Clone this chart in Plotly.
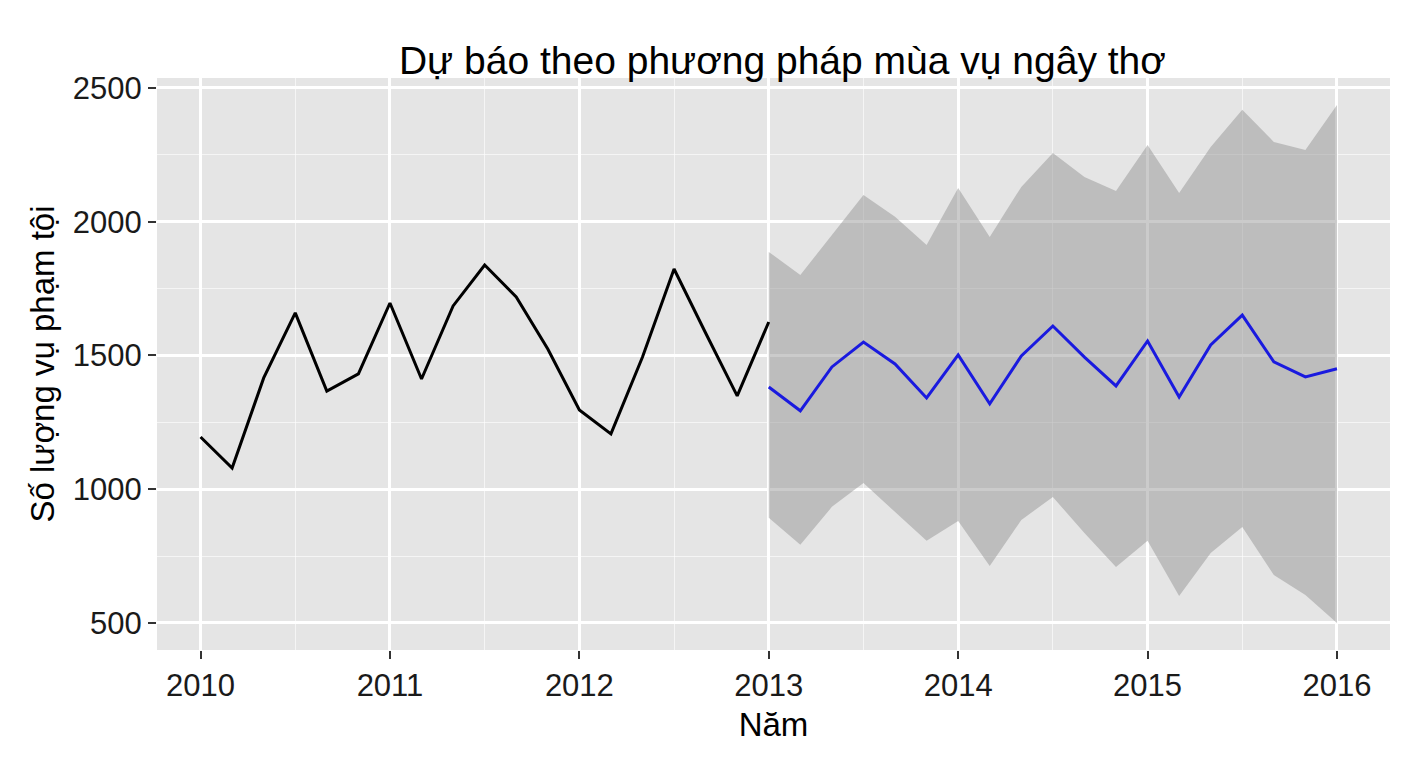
import plotly.graph_objects as go

hist_x = [2010 + i/6 for i in range(19)]
hist_y = [1195,1079,1416,1659,1367,1431,1696,1412,1685,1838,1719,1524,1296,1207,1494,1823,1584,1349,1625]
fc_x = [2013 + i/6 for i in range(19)]
fc_mean = [1382,1293,1457,1550,1468,1341,1502,1319,1498,1610,1494,1386,1554,1345,1539,1651,1476,1420,1450]
fc_upper = [1887,1801,1950,2100,2018,1913,2126,1943,2130,2257,2167,2115,2287,2107,2279,2418,2298,2268,2436]
fc_lower = [893,792,934,1023,915,807,881,713,885,971,836,709,807,601,762,859,679,605,500]

fig = go.Figure()
fig.add_trace(go.Scatter(x=fc_x + fc_x[::-1], y=fc_upper + fc_lower[::-1], fill='toself',
                         fillcolor='rgba(140,140,140,0.45)', line=dict(width=0), mode='lines',
                         hoverinfo='skip', showlegend=False))
fig.add_trace(go.Scatter(x=hist_x, y=hist_y, mode='lines', line=dict(color='black', width=3), showlegend=False))
fig.add_trace(go.Scatter(x=fc_x, y=fc_mean, mode='lines', line=dict(color='#1a1adf', width=3), showlegend=False))

font = "Liberation Sans, Arial, sans-serif"
fig.update_layout(
    width=1408, height=768, margin=dict(l=149, r=26, t=70, b=126),
    paper_bgcolor='white', plot_bgcolor='#E5E5E5',
    title=dict(text='Dự báo theo phương pháp mùa vụ ngây thơ', x=0.55, xanchor='center', y=0.95,
               font=dict(size=39, color='black', family=font)),
    font=dict(family=font, color='black'),
)
fig.update_xaxes(range=[2009.77, 2016.28], tickvals=list(range(2010, 2017)), showgrid=True,
                 gridcolor='white', gridwidth=2.5, zeroline=False,
                 minor=dict(tickvals=[2009.5 + i for i in range(8)], showgrid=True, gridcolor='rgba(255,255,255,0.6)', gridwidth=1),
                 ticks='outside', ticklen=8, tickcolor='#333', tickwidth=2,
                 tickfont=dict(size=31, color='#1a1a1a'),
                 title=dict(text='Năm', font=dict(size=33), standoff=10))
fig.update_yaxes(range=[399, 2537], tickvals=[500, 1000, 1500, 2000, 2500], showgrid=True,
                 gridcolor='white', gridwidth=2.5, zeroline=False,
                 minor=dict(tickvals=[750, 1250, 1750, 2250], showgrid=True, gridcolor='rgba(255,255,255,0.6)', gridwidth=1),
                 ticks='outside', ticklen=8, tickcolor='#333', tickwidth=2,
                 tickfont=dict(size=31, color='#1a1a1a'),
                 title=dict(text='Số lượng vụ phạm tội', font=dict(size=33), standoff=8))
fig.write_html("out.html")
